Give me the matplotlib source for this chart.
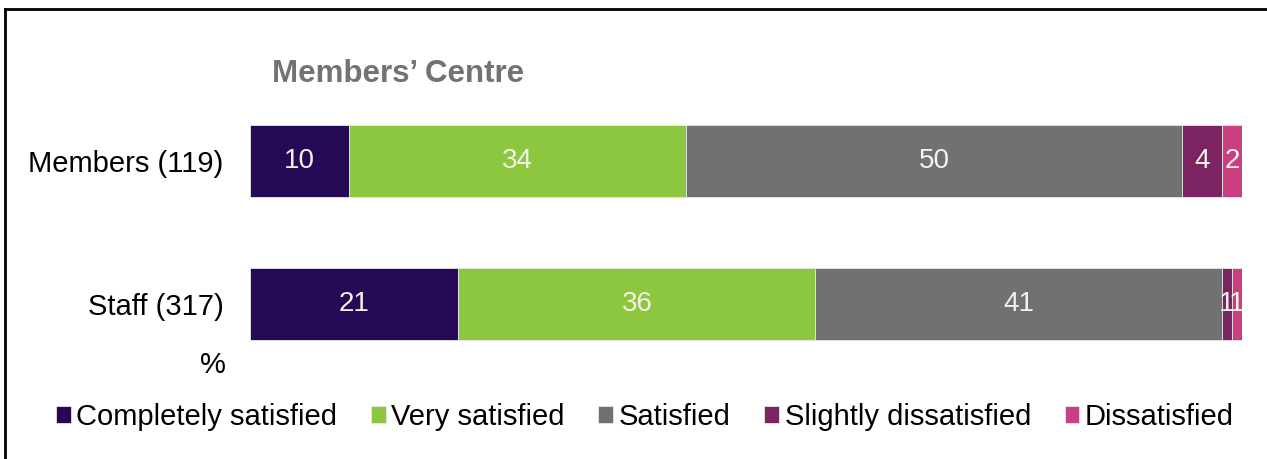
import numpy as np
import matplotlib.pyplot as plt
from matplotlib.lines import Line2D

plt.rcParams['font.family'] = ['Liberation Sans', 'DejaVu Sans']

groups = ['Staff (317)', 'Members (119)']
categories = ['Completely satisfied', 'Very satisfied', 'Satisfied',
              'Slightly dissatisfied', 'Dissatisfied']
colors = ['#250856', '#8DC63F', '#717073', '#7B2461', '#C8407F']
# percentages per group, same order as groups
values = {
    'Completely satisfied': [21, 10],
    'Very satisfied': [36, 34],
    'Satisfied': [41, 50],
    'Slightly dissatisfied': [1, 4],
    'Dissatisfied': [1, 2],
}

W, H = 1267, 459
fig = plt.figure(figsize=(W / 100, H / 100), dpi=100)
ax = fig.add_axes([250 / W, 1 - 375.5 / H, 992 / W, 286 / H])

y = np.arange(len(groups))
left = np.zeros(len(groups))
for cat, col in zip(categories, colors):
    vals = np.array(values[cat], dtype=float)
    bars = ax.barh(y, vals, left=left, height=0.5, color=col,
                   edgecolor='#E8E8E8', linewidth=0.6, label=cat)
    for rect, v in zip(bars, vals):
        ax.text(rect.get_x() + rect.get_width() / 2, rect.get_y() + rect.get_height() / 2,
                '%d' % v, ha='center', va='center', color='#F5F2EA', fontsize=20)
    left += vals

ax.set_xlim(0, 100)
ax.set_ylim(-0.5, 1.5)
ax.set_yticks(y)
ax.set_yticklabels(groups, fontsize=21)
ax.tick_params(axis='y', length=0, pad=19)
ax.set_xticks([])
for s in ax.spines.values():
    s.set_visible(False)

fig.text(272 / W, 1 - 74 / H, 'Members’ Centre', fontsize=22.5, fontweight='bold',
         color='#737275', ha='left', va='center')
fig.text(213 / W, 1 - 365 / H, '%', fontsize=21, ha='center', va='center')

handles, labels = ax.get_legend_handles_labels()
fig.legend(handles, labels, loc='center', bbox_to_anchor=(645 / W, 1 - 417 / H),
           ncol=5, frameon=False, fontsize=21, handlelength=0.5, handleheight=0.5,
           handletextpad=0.2, columnspacing=1.15, borderaxespad=0)

# frame lines at top and left
fig.add_artist(Line2D([5 / W, 1], [1 - 8.5 / H, 1 - 8.5 / H], color='black', lw=2))
fig.add_artist(Line2D([5 / W, 5 / W], [0, 1 - 8.5 / H], color='black', lw=2))

fig.savefig('out.png', dpi=100)
